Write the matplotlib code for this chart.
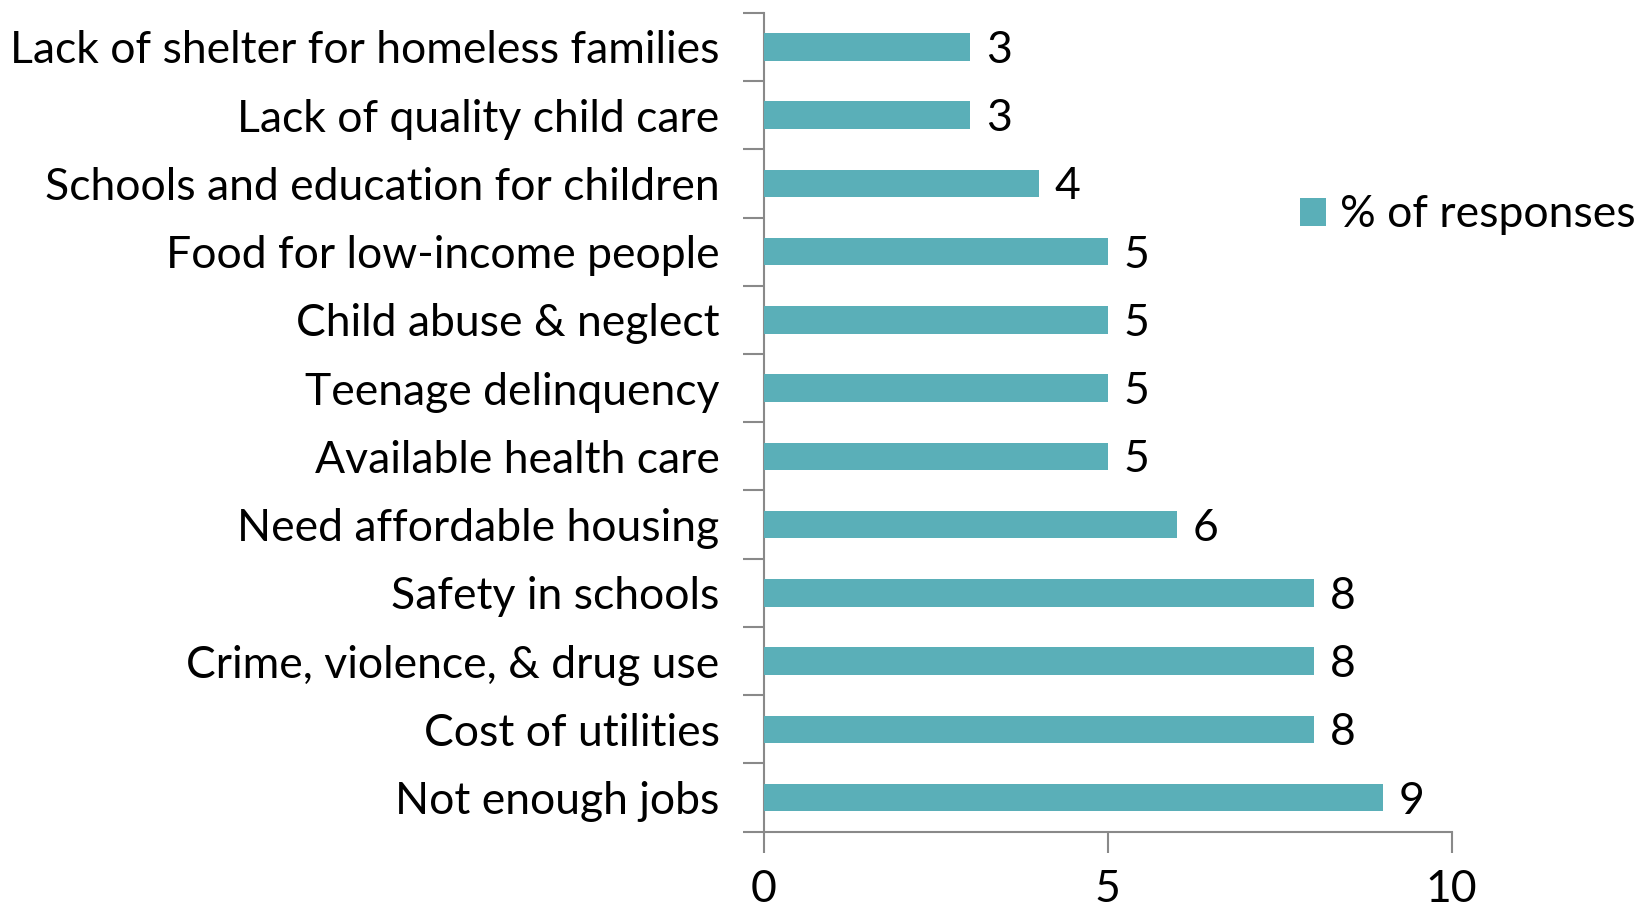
import matplotlib
matplotlib.use("Agg")
import matplotlib.pyplot as plt
from matplotlib.ticker import FixedLocator

categories = ["Lack of shelter for homeless families", "Lack of quality child care",
              "Schools and education for children", "Food for low-income people",
              "Child abuse & neglect", "Teenage delinquency", "Available health care",
              "Need affordable housing", "Safety in schools", "Crime, violence, & drug use",
              "Cost of utilities", "Not enough jobs"]
values = [3, 3, 4, 5, 5, 5, 5, 6, 8, 8, 8, 9]
xticks = [0, 5, 10]
series_name = "% of responses"

plt.rcParams['font.family'] = ['Lato', 'DejaVu Sans']
color = "#5AAFB8"
axis_color = "#898989"
fs = 32

fig = plt.figure(figsize=(16.37, 9.11), dpi=100)
ax = fig.add_axes([0.4667, 0.087, 0.42, 0.899])

n = len(categories)
ypos = list(range(n))
bars = ax.barh(ypos, values, height=0.4, color=color, label=series_name, zorder=3)
ax.set_ylim(n - 0.5, -0.5)
ax.set_xlim(0, 10)

for y, v in zip(ypos, values):
    ax.text(v + 0.23, y + 0.05, str(v), va='center', ha='left', fontsize=fs, color='black')

ax.set_yticks(ypos)
ax.set_yticklabels(categories, fontsize=fs)
ax.yaxis.set_minor_locator(FixedLocator([i - 0.5 for i in range(n + 1)]))
ax.tick_params(axis='y', which='major', length=0, pad=32)
ax.tick_params(axis='y', which='minor', length=15, width=1.5, color=axis_color)

ax.set_xticks(xticks)
ax.set_xticklabels([str(t) for t in xticks], fontsize=fs)
ax.tick_params(axis='x', length=15, width=1.5, color=axis_color, pad=12)

for s in ['top', 'right']:
    ax.spines[s].set_visible(False)
for s in ['left', 'bottom']:
    ax.spines[s].set_color(axis_color)
    ax.spines[s].set_linewidth(1.5)

leg = fig.legend(handles=[bars], labels=[series_name], loc='center left',
                 bbox_to_anchor=(0.775, 0.764), frameon=False, fontsize=fs,
                 handlelength=0.6, handleheight=0.6, handletextpad=0.3,
                 borderpad=0.2)

fig.savefig("out.png", dpi=100)
